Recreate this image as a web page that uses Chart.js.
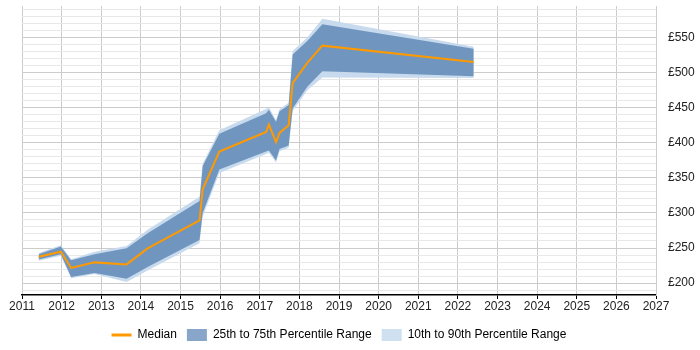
<!DOCTYPE html>
<html><head><meta charset="utf-8">
<script src="https://cdn.jsdelivr.net/npm/chart.js@4"></script>
<style>html,body{margin:0;padding:0;background:#fff}#wrap{width:700px;height:350px;position:relative}</style>
</head><body><div id="wrap"><canvas id="c"></canvas></div>
<script>
const years  = [2011.42, 2011.98, 2012.24, 2012.83, 2013.64, 2014.17, 2015.48, 2015.56, 2015.98, 2017.16, 2017.23, 2017.41, 2017.50, 2017.73, 2017.83, 2018.20, 2018.58, 2022.40];
const median = [237.5, 244.7, 221.6, 229.5, 226.6, 249.5, 289.4, 333.6, 387.5, 415.4, 426, 401, 414, 425, 485, 514, 538.5, 515];
const p75    = [241, 252, 232.6, 241, 249.5, 271, 317, 367, 413, 442, 447, 430, 445, 454, 526, 545, 569, 534];
const p25    = [233.6, 241, 208.7, 214.4, 206, 223, 261.5, 300, 362, 387.5, 389, 374.6, 391, 396, 449, 480, 502, 495];
const p90    = [243, 254, 234, 244.5, 252.8, 276, 323, 370, 418, 448, 451, 432, 448, 457, 531, 550, 577, 537];
const p10    = [232, 239, 207, 213, 201.4, 218, 256.7, 295, 357, 384, 386, 372, 388, 393, 445, 475, 493, 492.5];
const xTickYears = [2011, 2027];
const yLabelStep = 50;

const pts = arr => years.map((x, i) => ({x: x, y: arr[i]}));
const ORANGE = '#ff9900';
const DARK = '#7096bf';
const LIGHT = '#c8daee';
const DARK_KEY = '#88a6c9';
const LIGHT_KEY = '#cfe0f1';

Chart.defaults.font.family = '"Liberation Sans", Arial, sans-serif';
Chart.defaults.font.size = 12;
Chart.defaults.color = '#222';

new Chart(document.getElementById('c'), {
  type: 'line',
  data: {
    datasets: [
      {label: 'Median', data: pts(median), borderColor: ORANGE, backgroundColor: ORANGE, borderWidth: 2, pointRadius: 0, fill: false, order: 0},
      {label: '25th to 75th Percentile Range', data: pts(p75), borderWidth: 0, borderColor: 'transparent', backgroundColor: DARK, pointRadius: 0, fill: '+1', order: 1},
      {label: 'p25', data: pts(p25), borderWidth: 0, borderColor: 'transparent', pointRadius: 0, fill: false, order: 1},
      {label: '10th to 90th Percentile Range', data: pts(p90), borderWidth: 0, borderColor: 'transparent', backgroundColor: LIGHT, pointRadius: 0, fill: '+1', order: 2},
      {label: 'p10', data: pts(p10), borderWidth: 0, borderColor: 'transparent', pointRadius: 0, fill: false, order: 2}
    ]
  },
  options: {
    responsive: true,
    maintainAspectRatio: false,
    animation: false,
    layout: {padding: {left: 22, right: 0, top: 0, bottom: -1}},
    elements: {line: {tension: 0}},
    plugins: {
      tooltip: {enabled: false},
      legend: {
        position: 'bottom',
        fullSize: false,
        labels: {
          usePointStyle: true,
          pointStyleWidth: 20,
          boxHeight: 16,
          padding: 10,
          color: '#222',
          generateLabels: () => [
            {text: 'Median', pointStyle: 'line', strokeStyle: ORANGE, fillStyle: ORANGE, lineWidth: 3, datasetIndex: 0},
            {text: '25th to 75th Percentile Range', pointStyle: 'rect', strokeStyle: DARK_KEY, fillStyle: DARK_KEY, lineWidth: 0, datasetIndex: 1},
            {text: '10th to 90th Percentile Range', pointStyle: 'rect', strokeStyle: LIGHT_KEY, fillStyle: LIGHT_KEY, lineWidth: 0, datasetIndex: 3}
          ]
        }
      }
    },
    scales: {
      x: {
        type: 'linear',
        min: xTickYears[0], max: xTickYears[1],
        afterFit: s => { s.height = 24; },
        ticks: {stepSize: 1, callback: v => String(v), color: '#222', maxRotation: 0, autoSkip: false, padding: 0},
        grid: {color: '#cccccc', tickColor: '#000', tickLength: 4},
        border: {color: '#000', width: 1.5}
      },
      y: {
        position: 'right',
        min: 183, max: 595,
        afterFit: s => { s.width = 44; },
        ticks: {stepSize: 10, includeBounds: false, autoSkip: false, color: '#222', padding: 0,
          font: {lineHeight: 1},
          callback: v => (v % yLabelStep === 0 ? '£' + v : '')},
        grid: {color: c => (c.tick && c.tick.value % yLabelStep === 0) ? '#cccccc' : '#e8e8e8', tickLength: 12, tickColor: 'transparent'},
        border: {color: '#cccccc'}
      }
    }
  }
});
</script></body></html>
